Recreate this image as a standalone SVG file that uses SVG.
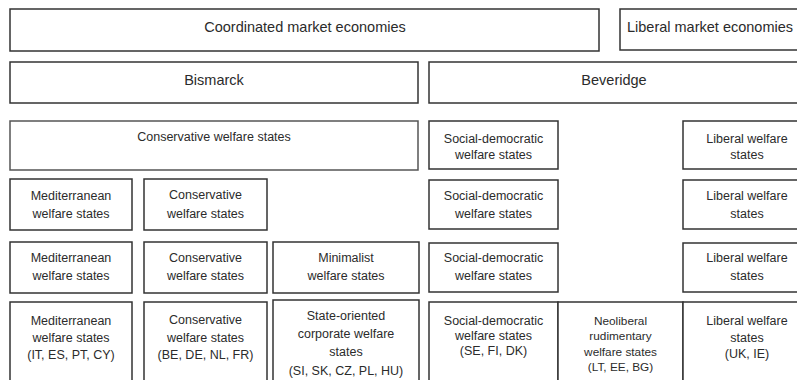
<svg xmlns="http://www.w3.org/2000/svg" width="797" height="380" viewBox="0 0 797 380">
<style>
rect{fill:#fff;stroke:#333;stroke-width:1.5}
text{font-family:"Liberation Sans",Arial,sans-serif;fill:#2b2b2b;text-anchor:middle;font-size:12.5px}
.big{font-size:14.5px}
.sm{font-size:11.8px}
</style>
<rect x="0" y="0" width="797" height="380" style="stroke:none"/>
<g id="cme"><rect x="10" y="9" width="589" height="42"/><text class="big" x="305" y="32">Coordinated market economies</text></g>
<g id="lme"><rect x="620" y="9" width="180" height="41"/><text class="big" x="710" y="32">Liberal market economies</text></g>
<g id="bismarck"><rect x="10" y="62" width="408" height="41"/><text class="big" x="214" y="85">Bismarck</text></g>
<g id="beveridge"><rect x="429" y="62" width="371" height="41"/><text class="big" x="614" y="85">Beveridge</text></g>

<g id="cons1"><rect x="10" y="121" width="408" height="49" style="stroke:#555"/><text x="214" y="141">Conservative welfare states</text></g>
<g id="sd1"><rect x="429" y="121" width="129" height="48"/><text x="493.5" y="143">Social-democratic</text><text x="493.5" y="159">welfare states</text></g>
<g id="lib1"><rect x="683" y="121" width="129" height="48"/><text x="747" y="143">Liberal welfare</text><text x="747" y="159">states</text></g>

<g id="med2"><rect x="10" y="179" width="122" height="51"/><text x="71" y="200">Mediterranean</text><text x="71" y="218">welfare states</text></g>
<g id="cons2"><rect x="144" y="179" width="123" height="51"/><text x="205.5" y="199">Conservative</text><text x="205.5" y="218">welfare states</text></g>
<g id="sd2"><rect x="429" y="180" width="129" height="49"/><text x="493.5" y="200">Social-democratic</text><text x="493.5" y="218">welfare states</text></g>
<g id="lib2"><rect x="683" y="180" width="129" height="49"/><text x="747" y="200">Liberal welfare</text><text x="747" y="218">states</text></g>

<g id="med3"><rect x="10" y="242" width="122" height="51"/><text x="71" y="262">Mediterranean</text><text x="71" y="280">welfare states</text></g>
<g id="cons3"><rect x="144" y="242" width="123" height="51"/><text x="205.5" y="262">Conservative</text><text x="205.5" y="280">welfare states</text></g>
<g id="min3"><rect x="273" y="242" width="146" height="51"/><text x="346" y="262">Minimalist</text><text x="346" y="280">welfare states</text></g>
<g id="sd3"><rect x="429" y="243" width="129" height="49"/><text x="493.5" y="262">Social-democratic</text><text x="493.5" y="280">welfare states</text></g>
<g id="lib3"><rect x="683" y="243" width="129" height="49"/><text x="747" y="262">Liberal welfare</text><text x="747" y="280">states</text></g>

<g id="med4"><rect x="10" y="302" width="122" height="85"/><text x="71" y="325">Mediterranean</text><text x="71" y="342">welfare states</text><text x="71" y="359">(IT, ES, PT, CY)</text></g>
<g id="cons4"><rect x="144" y="302" width="123" height="85"/><text x="205.5" y="324">Conservative</text><text x="205.5" y="342">welfare states</text><text x="205.5" y="359">(BE, DE, NL, FR)</text></g>
<g id="state4"><rect x="273" y="300" width="146" height="87"/><text x="346" y="320">State-oriented</text><text x="346" y="338">corporate welfare</text><text x="346" y="356">states</text><text x="346" y="375">(SI, SK, CZ, PL, HU)</text></g>
<g id="sd4"><rect x="429" y="302" width="129" height="85"/><text x="493.5" y="325">Social-democratic</text><text x="493.5" y="340">welfare states</text><text x="493.5" y="355">(SE, FI, DK)</text></g>
<g id="neo4"><rect x="558" y="302" width="125" height="85"/><text class="sm" x="620.5" y="325">Neoliberal</text><text class="sm" x="620.5" y="340">rudimentary</text><text class="sm" x="620.5" y="356">welfare states</text><text class="sm" x="620.5" y="371">(LT, EE, BG)</text></g>
<g id="lib4"><rect x="683" y="302" width="129" height="85"/><text x="747" y="325">Liberal welfare</text><text x="747" y="342">states</text><text x="747" y="358">(UK, IE)</text></g>
<g id="connectors"></g>
</svg>
